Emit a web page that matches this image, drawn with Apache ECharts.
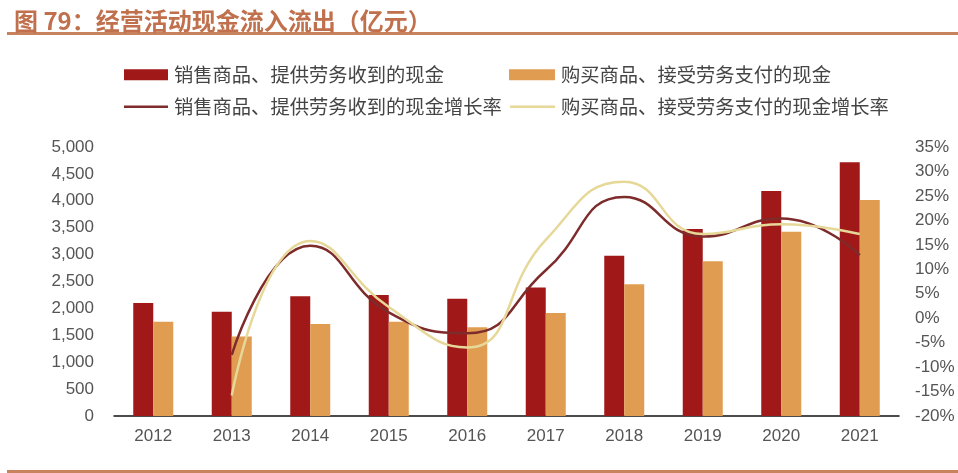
<!doctype html>
<html>
    <head>
        <meta charset="utf-8"/>
        <title>经营活动现金流入流出</title>
        <script src="https://cdn.jsdelivr.net/npm/echarts@6/dist/echarts.min.js"></script>
        <style>
*{
    margin: 0;
    padding: 0;
}
body{background-color:#ffffff;}
#main{
    width:958px;
    height:473px;
}
        </style>
    </head>
    <body>
        <div id="main"></div>

<script type="text/javascript">

// 数据（亿元）
var years = ['2012', '2013', '2014', '2015', '2016', '2017', '2018', '2019', '2020', '2021'];
var cashIn = [2100, 1940, 2225, 2250, 2180, 2390, 2980, 3475, 4180, 4715];
var cashOut = [1750, 1480, 1710, 1750, 1650, 1915, 2450, 2875, 3425, 4015];
// 增长率（%）
var cashInGrowth = [null, -7.5, 14.8, 1.2, -3.1, 9.8, 24.8, 16.7, 20.4, 12.9];
var cashOutGrowth = [null, -15.8, 15.8, 2.3, -6.0, 16.0, 27.9, 17.2, 19.2, 17.2];

var NAME_IN = '销售商品、提供劳务收到的现金';
var NAME_OUT = '购买商品、接受劳务支付的现金';
var NAME_IN_G = '销售商品、提供劳务收到的现金增长率';
var NAME_OUT_G = '购买商品、接受劳务支付的现金增长率';

var CJK = '"Noto Sans CJK SC", "Noto Sans", sans-serif';
var NUM = '"Liberation Sans", Arial, sans-serif';

var chartDom = document.getElementById('main');
var myChart = echarts.init(chartDom);

// 每个图例单独定位，做成两行两列
function legendAt(name, left, top, w, h, icon) {
    return {
        data: [{name: name, icon: icon}],
        left: left,
        top: top,
        itemWidth: w,
        itemHeight: h,
        itemGap: 0,
        padding: 0,
        textStyle: {fontFamily: CJK, fontSize: 19.3, color: '#444', padding: [0, 0, 0, 1]},
        selectedMode: false
    };
}

var option = {
    animation: false,
    title: {
        text: '图 79：经营活动现金流入流出（亿元）',
        left: 9,
        top: 4,
        textStyle: {fontFamily: CJK, fontSize: 24, fontWeight: 'bold', color: '#C0704C'}
    },
    graphic: [
        {type: 'rect', shape: {x: 7, y: 32, width: 951, height: 3}, style: {fill: '#C8825E'}},
        {type: 'rect', shape: {x: 7, y: 470, width: 951, height: 3}, style: {fill: '#C8825E'}}
    ],
    legend: [
        legendAt(NAME_IN, 124, 65, 44, 11, 'rect'),
        legendAt(NAME_OUT, 509, 65, 46, 11, 'rect'),
        legendAt(NAME_IN_G, 124, 97, 44, 2.5, 'rect'),
        legendAt(NAME_OUT_G, 510, 97, 45, 2.5, 'rect')
    ],
    grid: {left: 114, right: 59, top: 147, bottom: 57},
    xAxis: {
        type: 'category',
        data: years,
        axisLine: {lineStyle: {color: '#111', width: 1.5}},
        axisTick: {inside: true, length: 4, lineStyle: {color: '#111'}},
        axisLabel: {fontFamily: NUM, fontSize: 17, color: '#555', margin: 12}
    },
    yAxis: [
        {
            type: 'value',
            min: 0,
            max: 5000,
            interval: 500,
            splitLine: {show: false},
            axisLine: {show: false},
            axisTick: {show: false},
            axisLabel: {
                fontFamily: NUM, fontSize: 17, color: '#555', margin: 20,
                formatter: function (v) { return v.toString().replace(/\B(?=(\d{3})+(?!\d))/g, ','); }
            }
        },
        {
            type: 'value',
            min: -20,
            max: 35,
            interval: 5,
            splitLine: {show: false},
            axisLine: {show: false},
            axisTick: {show: false},
            axisLabel: {fontFamily: NUM, fontSize: 17, color: '#555', margin: 16, formatter: '{value}%'}
        }
    ],
    series: [
        {
            name: NAME_IN,
            type: 'bar',
            data: cashIn,
            barWidth: 20,
            barGap: '0%',
            itemStyle: {color: '#A11818'}
        },
        {
            name: NAME_OUT,
            type: 'bar',
            data: cashOut,
            barWidth: 20,
            itemStyle: {color: '#E09D52'}
        },
        {
            name: NAME_IN_G,
            type: 'line',
            yAxisIndex: 1,
            data: cashInGrowth,
            smooth: 0.5,
            symbol: 'none',
            lineStyle: {color: '#7E2B2B', width: 2.5},
            itemStyle: {color: '#7E2B2B'}
        },
        {
            name: NAME_OUT_G,
            type: 'line',
            yAxisIndex: 1,
            data: cashOutGrowth,
            smooth: 0.5,
            symbol: 'none',
            lineStyle: {color: '#E6D898', width: 2.5},
            itemStyle: {color: '#E6D898'}
        }
    ]
};

myChart.setOption(option);

</script>
    </body>
</html>
